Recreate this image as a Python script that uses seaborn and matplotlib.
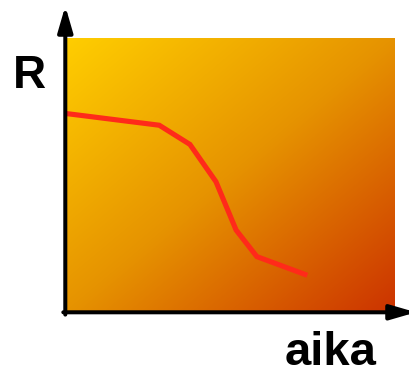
import numpy as np
import pandas as pd
import matplotlib
matplotlib.use("Agg")
import matplotlib.pyplot as plt
from matplotlib.colors import LinearSegmentedColormap
import seaborn as sns

# data (arbitrary units)
aika = [0.0, 2.85, 3.78, 4.57, 5.18, 5.81, 7.34]
R = [7.25, 6.82, 6.12, 4.76, 3.00, 2.03, 1.35]
x_label = "aika"
y_label = "R"

sns.set_theme(style="white")
plt.rcParams['font.family'] = ['Liberation Sans', 'DejaVu Sans']

W, H = 410, 368
fig = plt.figure(figsize=(W / 100, H / 100), dpi=100)
L, Rr, B, T = 65.3, 395.0, 312.3, 38.0
ax = fig.add_axes([L / W, (H - B) / H, (Rr - L) / W, (B - T) / H])
ax.set_xlim(0, 10)
ax.set_ylim(0, 10)

# diagonal gradient background
cmap = LinearSegmentedColormap.from_list("g", ["#FFCE00", "#E69300", "#CC3300"])
n = 200
gx, gy = np.meshgrid(np.linspace(0, 1, n), np.linspace(0, 1, n))
grad = (gx + gy) / 2.0  # row 0 at top after origin='upper'
ax.imshow(grad, cmap=cmap, extent=[0, 10, 0, 10], aspect='auto', origin='upper',
          zorder=0, interpolation='bilinear')

df = pd.DataFrame({"aika": aika, "R": R})
sns.lineplot(data=df, x="aika", y="R", ax=ax, color="#FF2A1A", linewidth=3.7,
             zorder=3, sort=False)
for l in ax.lines:
    l.set_solid_capstyle('butt')
    l.set_solid_joinstyle('miter')

for s in ax.spines.values():
    s.set_visible(False)
ax.set_xticks([])
ax.set_yticks([])
ax.set_xlabel("")
ax.set_ylabel("")

aw = 2.9
ypx = B - T
xpx = Rr - L
arrow_style = "-|>,head_length=1.55,head_width=0.45"
ax.annotate("", xy=(0, (H - 6 - (H - B)) / ypx), xytext=(0, -2.3 / ypx),
            xycoords='axes fraction', textcoords='axes fraction', annotation_clip=False,
            arrowprops=dict(arrowstyle=arrow_style, lw=aw, color='black',
                            shrinkA=0, shrinkB=0, mutation_scale=10), zorder=5)
ax.annotate("", xy=((416 - L) / xpx, 0), xytext=(-2.0 / xpx, 0),
            xycoords='axes fraction', textcoords='axes fraction', annotation_clip=False,
            arrowprops=dict(arrowstyle=arrow_style, lw=aw, color='black',
                            shrinkA=0, shrinkB=0, mutation_scale=10), zorder=5)

fig.text(13 / W, (H - 88) / H, y_label, fontsize=33, fontweight='bold',
         color='black', va='baseline', ha='left')
fig.text(285 / W, (H - 365) / H, x_label, fontsize=34, fontweight='bold',
         color='black', va='baseline', ha='left')

fig.savefig("out.png", dpi=100)
